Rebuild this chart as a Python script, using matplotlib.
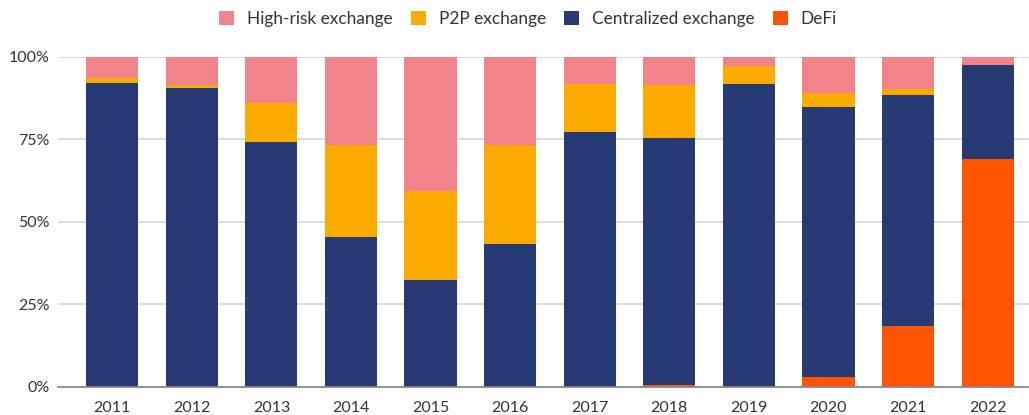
import numpy as np
import matplotlib
matplotlib.use("Agg")
from matplotlib import pyplot as plt
from matplotlib.ticker import PercentFormatter

plt.rcParams['font.family'] = ['Lato', 'DejaVu Sans']

years = ['2011', '2012', '2013', '2014', '2015', '2016',
         '2017', '2018', '2019', '2020', '2021', '2022']

# shares of each year's total, in percent
defi = [0, 0, 0, 0, 0, 0, 0, 0.6, 0, 3.0, 18.5, 69.0]
centralized = [92.0, 90.5, 74.2, 45.4, 32.4, 43.3, 77.2, 74.8, 91.7, 81.7, 69.9, 28.5]
p2p = [1.7, 0.9, 12.0, 27.8, 27.0, 29.9, 14.6, 16.0, 5.5, 4.3, 1.8, 0.0]
high_risk = [6.3, 8.6, 13.8, 26.8, 40.6, 26.8, 8.2, 8.6, 2.8, 11.0, 9.8, 2.5]

c_defi = '#ff5400'
c_central = '#283a73'
c_p2p = '#fbaa00'
c_high = '#f1848a'
text_col = '#333333'

fig = plt.figure(figsize=(10.29, 4.15), dpi=100)
ax = fig.add_axes([0.0564, 0.0675, 0.9436, 0.7952])

x = np.arange(len(years))
w = 0.655
d = np.array(defi)
c = np.array(centralized)
p = np.array(p2p)
h = np.array(high_risk)

ax.bar(x, d, w, color=c_defi, label='DeFi', zorder=2)
ax.bar(x, c, w, bottom=d, color=c_central, label='Centralized exchange', zorder=2)
ax.bar(x, p, w, bottom=d + c, color=c_p2p, label='P2P exchange', zorder=2)
ax.bar(x, h, w, bottom=d + c + p, color=c_high, label='High-risk exchange', zorder=2)

ax.set_xlim(-0.68, 11.52)
ax.set_ylim(0, 100)
ax.set_yticks([0, 25, 50, 75, 100])
ax.yaxis.set_major_formatter(PercentFormatter(decimals=0))
ax.set_xticks(x)
ax.set_xticklabels(years)
ax.grid(axis='y', color='#d9d9d9', linewidth=1.3, zorder=0)
for s in ['top', 'right', 'left']:
    ax.spines[s].set_visible(False)
ax.spines['bottom'].set_color('#888888')
ax.spines['bottom'].set_linewidth(1.3)
ax.spines['bottom'].set_zorder(3)
ax.tick_params(axis='both', length=0, colors=text_col, labelsize=11.5)
ax.tick_params(axis='x', pad=10)
ax.tick_params(axis='y', pad=6)

handles, labels = ax.get_legend_handles_labels()
fig.legend(handles[::-1], labels[::-1], loc='upper center',
           bbox_to_anchor=(0.513, 1.012), ncol=4, frameon=False,
           fontsize=12.4, handlelength=0.87, handleheight=0.87,
           handletextpad=0.76, columnspacing=1.05, labelcolor=text_col)

fig.savefig('out.png', dpi=100)
